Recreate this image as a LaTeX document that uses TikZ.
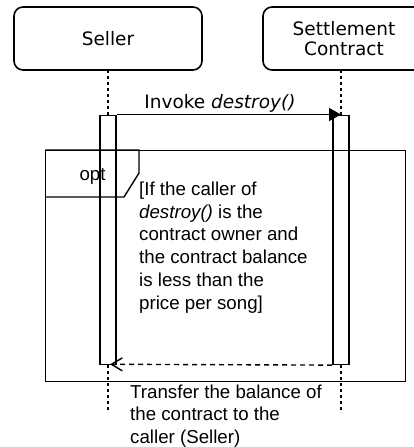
\documentclass[tikz,border=0pt]{standalone}
\usepackage{fontspec}
\setmainfont{Liberation Sans}
\newfontfamily\headfont{DejaVu Sans}
\usetikzlibrary{arrows.meta}
\begin{document}
\begin{tikzpicture}[x=1pt,y=-1pt,
  actor/.style={draw,rounded corners=9pt,line width=1.6pt,inner sep=0pt,
    align=center,font=\headfont\fontsize{18.5}{20}\selectfont},
  lifeline/.style={line width=1.3pt,dash pattern=on 3pt off 3pt},
  activation/.style={draw,line width=1.6pt,inner sep=0pt,minimum width=16pt,
    minimum height=249pt},
  call/.style={line width=1.5pt,-{Triangle[length=12pt,width=13pt]}},
  reply/.style={line width=1.4pt,dash pattern=on 5pt off 4pt,
    -{Straight Barb[length=11pt,width=13pt,line width=1.4pt]}},
  frame/.style={draw,line width=1.4pt,inner sep=0pt,anchor=north west},
  note/.style={inner sep=0pt,anchor=north west,align=left},
  guardfont/.style={font=\fontsize{18.7}{22.8}\selectfont},
  textfont/.style={font=\fontsize{18.7}{22.3}\selectfont}]
\useasboundingbox (0,0) rectangle (414,447);
\clip (0,0) rectangle (414,447);

% participants
\node[actor,minimum width=188pt,minimum height=63pt] (seller) at (108,38.5) {Seller};
\node[actor,minimum width=162pt,minimum height=63pt] (contract) at (344,38.5) {Settlement\\Contract};

% activation bars
\node[activation] (sa) at (108,239.8) {};
\node[activation] (ca) at (341,239.8) {};

% lifelines
\coordinate (sTop) at (108,70);
\coordinate (cTop) at (341,70);
\coordinate (sEnd) at (108,411);
\coordinate (cEnd) at (341,411);
\draw[lifeline] (sTop) -- (sa.north);
\draw[lifeline] (cTop) -- (ca.north);
\draw[lifeline] (sa.south) -- (sEnd);
\draw[lifeline] (ca.south) -- (cEnd);

% combined fragment
\node[frame,minimum width=360pt,minimum height=231pt] (opt) at (45,150) {};
\draw[line width=1.4pt] (opt.north west) -- ++(94,0) -- ++(0,23) -- ++(-15,24) -- ++(-79,0);
\node[guardfont,anchor=base] (optlabel) at (92.5,180) {opt};
\node[note,guardfont] (guard) at (139,181.5)
  {[If the caller of\\\textit{destroy()} is the\\contract owner and\\the contract balance\\is less than the\\price per song]};

% messages
\draw[call] (sa.north east) -- (ca.north)
  node[pos=0.46,anchor=base,yshift=6pt,font=\headfont\fontsize{18.5}{20}\selectfont] (invoke)
  {Invoke \textit{destroy()}};
\coordinate (sTip) at (110,364.3);
\draw[reply] (ca.south west) -- (sTip);
\node[note,textfont] (transfer) at (130,384.8)
  {Transfer the balance of\\the contract to the\\caller (Seller)};
\end{tikzpicture}
\end{document}
